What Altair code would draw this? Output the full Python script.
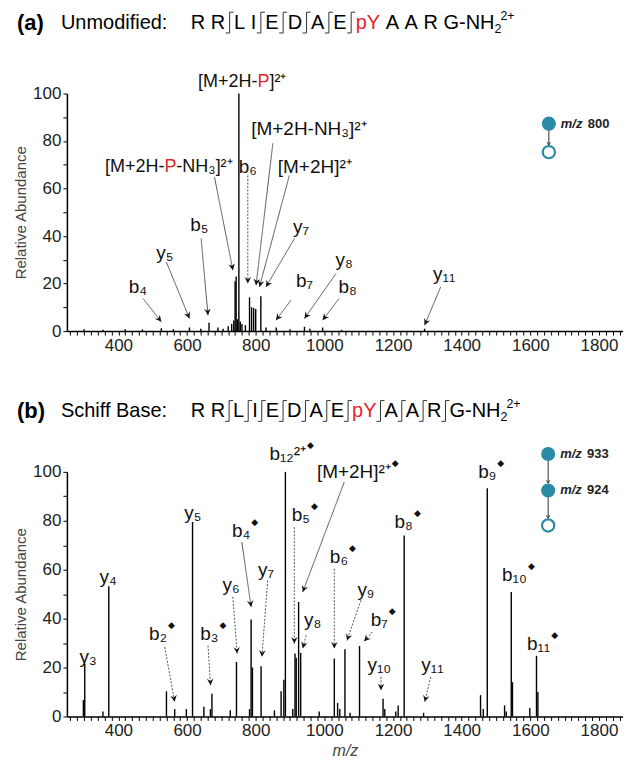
import math
import altair as alt
import pandas as pd

FONT = "Liberation Sans"
TEAL = "#2A8BA6"
RED = "#E3242B"
X_DOMAIN = [250, 1870]
W = 557
HA = 238
HB = 245
SX = W / (X_DOMAIN[1] - X_DOMAIN[0])

# ---------------- Panel (a): unmodified ----------------
a_mz = [300, 355, 420, 470, 525, 560, 607, 640, 664, 690, 705, 720, 730, 736, 740, 743, 747,
        751, 755, 760, 770, 782, 788, 794, 800, 815, 830, 860, 900, 942, 958, 995, 1050, 1292]
a_int = [0.8, 0.6, 0.8, 0.7, 1.2, 0.8, 1.5, 1.0, 3.5, 1.5, 1.0, 2.0, 3.0, 4.5, 21.0, 23.0, 5.0,
         100, 4.0, 3.0, 2.5, 14.2, 10.0, 9.8, 9.3, 14.7, 1.5, 1.5, 0.8, 1.8, 1.0, 1.5, 0.5, 1.0]

a_lab_text = ["[M+2H-NH₃]²⁺", "b₆", "[M+2H]²⁺", "y₇", "b₅", "y₅", "b₄", "b₇", "y₈", "b₈", "y₁₁"]
a_lab_mz = [955, 777, 972, 932, 636, 535, 457, 942, 1058, 1068, 1349]
a_lab_int = [85, 69, 69, 44, 44.5, 33, 18.5, 21, 30, 18.5, 24]

# labels with a red "P": text before, text after, m/z of the P, height
a_red_pre = ["[M+2H-", "[M+2H-"]
a_red_post = ["]²⁺", "-NH₃]²⁺"]
a_red_mz = [805, 534]
a_red_int = [104.7, 69]

# arrows: start (m/z, int) -> tip (m/z, int), dotted flag
a_arr_x0 = [472, 540, 641, 680, 777, 850, 898, 913, 903, 1034, 1043, 1339]
a_arr_y0 = [13.7, 29, 39, 64.8, 65.5, 79, 65.5, 39, 13, 24.2, 13.7, 18.6]
a_arr_x1 = [525, 607, 661, 733.5, 777, 801, 811, 830, 859, 942, 995, 1292]
a_arr_y1 = [3.9, 5.3, 6.7, 25.6, 20, 19.3, 18.6, 18.6, 4.6, 5.3, 4.6, 2.5]
a_arr_dot = [0, 0, 0, 0, 1, 0, 0, 0, 0, 0, 0, 0]

a_leg_mz = 1654
a_leg_int = [87.3, 75.3]
a_leg_fill = [1, 0]
a_leg_text = ["800"]

# ---------------- Panel (b): Schiff base ----------------
b_mz = [298, 302, 355, 372, 540, 564, 598, 616, 649, 668, 672.5, 726, 744, 782, 786.6, 790.5,
        815.7, 854.5, 874, 882, 886.5, 908, 914.5, 918, 925, 931, 985, 1029, 1038.6, 1045,
        1060, 1075, 1102.5, 1171, 1176, 1208, 1215, 1232.5, 1289, 1455, 1463, 1474.6, 1525,
        1530, 1544.5, 1548, 1598.5, 1618, 1622]
b_int = [6.7, 21.6, 2.0, 53.2, 10.3, 3.0, 3.0, 79.5, 4.0, 3.0, 9.3, 2.5, 22.3, 3.0, 39.6, 20.0,
         20.5, 2.5, 10.3, 15.0, 100, 3.0, 25.7, 24.0, 46.8, 26.0, 2.0, 23.7, 5.5, 3.0,
         27.5, 1.5, 28.8, 7.2, 3.0, 2.0, 4.5, 74.0, 1.5, 8.7, 3.0, 93.3, 4.5,
         2.0, 50.9, 14.0, 3.5, 24.8, 10.0]

b_lab_text = ["y₃", "y₄", "y₅", "y₆", "y₇", "y₈", "y₉", "y₁₀", "y₁₁"]
b_lab_mz = [312, 370, 617, 728.5, 830, 966, 1121, 1160, 1315]
b_lab_int = [24.4, 57, 83.3, 53.6, 59.7, 39.3, 51.6, 20.9, 20.9]

# labels followed by a diamond: text, m/z of the label's right end, height
b_dia_text = ["b₂", "b₃", "b₄", "b₁₂²⁺", "b₅", "[M+2H]²⁺", "b₆", "b₇", "b₈", "b₉", "b₁₀", "b₁₁"]
b_dia_mz = [541.6, 691.6, 784, 946.5, 958, 1193.6, 1069, 1185, 1258, 1501, 1590, 1658]
b_dia_int = [33.9, 33.9, 76, 107.3, 82.2, 99.9, 65.2, 39.3, 79.5, 99.9, 57.7, 29.8]

b_arr_x0 = [535, 661, 733.4, 759.6, 835, 912.5, 1058, 947, 1029, 1106.5, 1140.5, 1165, 1310]
b_arr_y0 = [28.4, 29, 48.9, 71.3, 55.6, 77.4, 95.8, 33.2, 60.4, 47.5, 34.6, 16.2, 16.2]
b_arr_x1 = [564, 668.5, 746, 786.6, 818, 912.5, 937, 937, 1029, 1066, 1116, 1165, 1292.5]
b_arr_y1 = [6, 12.8, 25.7, 44.8, 24.4, 29.8, 50.9, 27.8, 27.8, 31.1, 30.7, 10.7, 6]
b_arr_dot = [1, 1, 1, 0, 1, 1, 0, 1, 1, 1, 1, 1, 1]

b_leg_mz = 1652
b_leg_int = [107.3, 92.4, 78.1]
b_leg_fill = [1, 1, 0]
b_leg_text = ["933", "924"]

# ---------------- header text ----------------
residues = ["R", "R", "L", "I", "E", "D", "A", "E", "pY", "A", "A", "R", "G-NH"]
res_red = [0, 0, 0, 0, 0, 0, 0, 0, 1, 0, 0, 0, 0]
a_gaps = ["s", "b", "s", "b", "b", "b", "b", "b", "s", "s", "s", "s"]
b_gaps = ["s", "b", "b", "b", "b", "b", "b", "b", "b", "b", "b", "b"]

EM = {"R": .722, "L": .556, "I": .278, "E": .667, "D": .722, "A": .667, "p": .556,
      "Y": .667, "G": .778, "-": .333, "N": .722, "H": .722}


def header_frames(label, name, gaps, yc, fs, gap_s, gap_b, H):
    """Header laid out in plot pixels (relative to plot origin), converted to data coords."""
    toks = [dict(t=label, px=-50, py=yc, c="black", fs=fs + 2, w="bold"),
            dict(t=name, px=-6, py=yc, c="black", fs=fs, w="normal")]
    rules = []
    x = 124
    for i, r in enumerate(residues):
        toks.append(dict(t=r, px=x, py=yc, c=RED if res_red[i] else "black", fs=fs, w="normal"))
        x += sum(EM[ch] for ch in r) * fs
        if i < len(gaps):
            if gaps[i] == "b":
                bx = x + gap_b / 2
                top, bot = yc - fs * 0.52, yc + fs * 0.52
                rules += [dict(x0=bx, x1=bx, y0=top, y1=bot),
                          dict(x0=bx, x1=bx + 4, y0=top, y1=top),
                          dict(x0=bx - 4, x1=bx, y0=bot, y1=bot)]
                x += gap_b
            else:
                x += gap_s
    toks.append(dict(t="2", px=x, py=yc + 6, c="black", fs=fs * 0.62, w="normal"))
    toks.append(dict(t="2+", px=x + 6, py=yc - 7, c="black", fs=fs * 0.62, w="normal"))
    tx = lambda p: X_DOMAIN[0] + p / SX
    ty = lambda p: 100 - p * 100.0 / H
    t = pd.DataFrame(toks)
    t["mz"] = t["px"].map(tx)
    t["int"] = t["py"].map(ty)
    rr = pd.DataFrame(rules)
    for a in ("x0", "x1"):
        rr[a] = rr[a].map(tx)
    for a in ("y0", "y1"):
        rr[a] = rr[a].map(ty)
    return t, rr


xscale = alt.Scale(domain=X_DOMAIN, nice=False, zero=False)
yscale = alt.Scale(domain=[0, 100], nice=False)
ARROW = "M-0.5,-1L0,0L0.5,-1L0,-0.65Z"
V = "M-0.6,-1L0,0L0.6,-1"
LFS = 19


def arrows_frame(x0, y0, x1, y1, dot, H):
    sy = H / 100.0
    rows = []
    for a, b, c, d, e in zip(x0, y0, x1, y1, dot):
        dx = (c - a) * SX
        dy = -(d - b) * sy
        ang = math.degrees(math.atan2(-dx, dy)) % 360
        rows.append(dict(x0=a, y0=b, x1=c, y1=d, dashed=e, ang=ang))
    return pd.DataFrame(rows)


def build_panel(mz, inten, H, labels, red_labels, dia_labels, arrows, legend, header, xtitle):
    xax = alt.Axis(values=list(range(260, 1861, 20)),
                   labelExpr="datum.value % 200 == 0 ? datum.label : ''",
                   format="d", title=xtitle if xtitle else "",
                   titleFontStyle="italic", titleFontWeight="normal")
    yax = alt.Axis(values=list(range(0, 101, 10)),
                   labelExpr="datum.value % 20 == 0 ? datum.label : ''",
                   format="d", title="Relative Abundance")

    def XE(f):
        return alt.X(f, scale=xscale, axis=xax)

    def YE(f):
        return alt.Y(f, scale=yscale, axis=yax)

    peaks = pd.DataFrame({"mz": mz, "int": inten})
    layers = []
    layers.append(alt.Chart(peaks).mark_rule(color="black", strokeWidth=1.4).encode(
        x=XE("mz:Q"), y=YE("int:Q"), y2=alt.datum(0)))

    arr = arrows
    solid = arr[arr["dashed"] == 0]
    dotted = arr[arr["dashed"] == 1]
    for df, dash in ((solid, [1, 0]), (dotted, [2, 1.5])):
        if len(df):
            layers.append(alt.Chart(df).mark_rule(color="#555", strokeWidth=1, strokeDash=dash).encode(
                x=XE("x0:Q"), x2="x1:Q", y=YE("y0:Q"), y2="y1:Q"))
    layers.append(alt.Chart(arr).mark_point(shape=ARROW, filled=True, color="#111", size=170, opacity=1).encode(
        x=XE("x1:Q"), y=YE("y1:Q"), angle=alt.Angle("ang:Q", scale=None)))

    layers.append(alt.Chart(labels).mark_text(font=FONT, fontSize=LFS, align="center", baseline="middle", color="#111").encode(
        x=XE("mz:Q"), y=YE("int:Q"), text="t:N"))
    if red_labels is not None:
        base = alt.Chart(red_labels)
        enc = dict(x=XE("mz:Q"), y=YE("int:Q"))
        layers.append(base.mark_text(font=FONT, fontSize=18, align="right", baseline="middle", color="#111").encode(text="pre:N", **enc))
        layers.append(base.mark_text(font=FONT, fontSize=18, align="left", baseline="middle", color=RED).encode(text=alt.value("P"), **enc))
        layers.append(base.mark_text(font=FONT, fontSize=18, align="left", baseline="middle", dx=12, color="#111").encode(text="post:N", **enc))
    if dia_labels is not None:
        base = alt.Chart(dia_labels)
        enc = dict(x=XE("mz:Q"), y=YE("int:Q"))
        layers.append(base.mark_text(font=FONT, fontSize=LFS, align="right", baseline="middle", color="#111").encode(text="t:N", **enc))
        layers.append(base.mark_text(font="DejaVu Sans", fontSize=9, align="left", baseline="middle", dx=1, dy=-9, color="#111").encode(text=alt.value("◆"), **enc))

    # legend (precursor scheme)
    leg_pts, leg_txt, leg_arr = legend
    enc = dict(x=XE("mz:Q"), y=YE("int:Q"))
    layers.append(alt.Chart(leg_pts[leg_pts["filled"] == 1]).mark_point(shape="circle", filled=True, color=TEAL, size=200, opacity=1).encode(**enc))
    layers.append(alt.Chart(leg_pts[leg_pts["filled"] == 0]).mark_point(shape="circle", filled=False, color=TEAL, size=150, strokeWidth=2.2, opacity=1).encode(**enc))
    layers.append(alt.Chart(leg_txt).mark_text(font=FONT, fontSize=13, fontWeight="bold", fontStyle="italic", align="left", baseline="middle", dx=12, color="#222").encode(text=alt.value("m/z"), **enc))
    layers.append(alt.Chart(leg_txt).mark_text(font=FONT, fontSize=13, fontWeight="bold", align="left", baseline="middle", dx=39, color="#222").encode(text="t:N", **enc))
    layers.append(alt.Chart(leg_arr).mark_rule(color="#333", strokeWidth=1).encode(
        x=XE("mz:Q"), y=YE("y0:Q"), y2="y1:Q"))
    layers.append(alt.Chart(leg_arr).mark_point(shape=V, filled=False, color="#333", size=30, strokeWidth=1, opacity=1).encode(
        x=XE("mz:Q"), y=YE("y1:Q")))

    # header
    toks, rules = header
    for wgt in ("bold", "normal"):
        layers.append(alt.Chart(toks[toks["w"] == wgt]).mark_text(font=FONT, fontWeight=wgt, align="left", baseline="middle").encode(
            x=XE("mz:Q"), y=YE("int:Q"),
            text="t:N", color=alt.Color("c:N", scale=None), size=alt.Size("fs:Q", scale=None)))
    layers.append(alt.Chart(rules).mark_rule(color="#333", strokeWidth=1).encode(
        x=XE("x0:Q"), x2="x1:Q", y=YE("y0:Q"), y2="y1:Q"))

    return alt.layer(*layers).properties(width=W, height=H)


def legend_frames(mz, ints, fills, texts):
    pts = pd.DataFrame({"mz": [mz] * len(ints), "int": ints, "filled": fills})
    filled = [v for v, f in zip(ints, fills) if f == 1]
    txt = pd.DataFrame({"mz": [mz] * len(texts), "int": filled[:len(texts)], "t": texts})
    y0 = [ints[i] - 2.8 for i in range(len(ints) - 1)]
    y1 = [ints[i + 1] + 3.0 for i in range(len(ints) - 1)]
    arr = pd.DataFrame({"mz": [mz] * len(y0), "y0": y0, "y1": y1})
    return pts, txt, arr


panel_a = build_panel(
    a_mz, a_int, HA,
    pd.DataFrame({"t": a_lab_text, "mz": a_lab_mz, "int": a_lab_int}),
    pd.DataFrame({"pre": a_red_pre, "post": a_red_post, "mz": a_red_mz, "int": a_red_int}),
    None,
    arrows_frame(a_arr_x0, a_arr_y0, a_arr_x1, a_arr_y1, a_arr_dot, HA),
    legend_frames(a_leg_mz, a_leg_int, a_leg_fill, a_leg_text),
    header_frames("(a)", "Unmodified:", a_gaps, -71, 20, 5.6, 9, HA),
    None)

panel_b = build_panel(
    b_mz, b_int, HB,
    pd.DataFrame({"t": b_lab_text, "mz": b_lab_mz, "int": b_lab_int}),
    None,
    pd.DataFrame({"t": b_dia_text, "mz": b_dia_mz, "int": b_dia_int}),
    arrows_frame(b_arr_x0, b_arr_y0, b_arr_x1, b_arr_y1, b_arr_dot, HB),
    legend_frames(b_leg_mz, b_leg_int, b_leg_fill, b_leg_text),
    header_frames("(b)", "Schiff Base:", b_gaps, -61, 20, 5.6, 8, HB),
    "m/z")

chart = alt.vconcat(panel_a, panel_b, spacing=141, bounds="flush").properties(
    padding={"top": 0, "left": 5, "right": 0, "bottom": 0}
).configure_view(stroke=None).configure_axis(
    domainColor="black", domainWidth=1.5, tickColor="black", tickWidth=1, tickSize=4,
    labelFont=FONT, labelFontSize=17, labelColor="#222", labelPadding=2, grid=False,
    titleFont=FONT, titleFontSize=15, titleFontWeight="normal", titleColor="#444", titlePadding=4,
).configure_axisX(titleFontSize=16, titlePadding=4)

chart.save("out.html", embed_options={"renderer": "svg", "actions": False})
